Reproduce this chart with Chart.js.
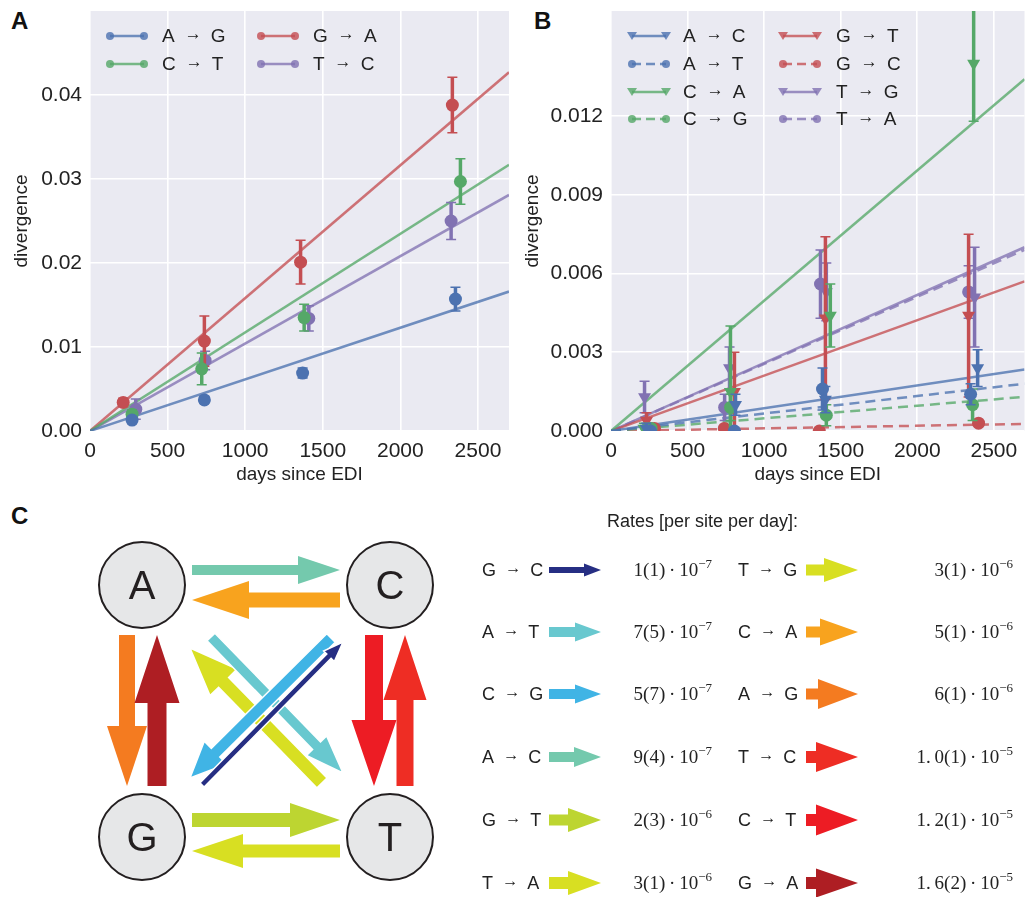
<!DOCTYPE html>
<html>
<head>
<meta charset="utf-8">
<script src="https://cdn.jsdelivr.net/npm/chart.js@4.4.1/dist/chart.umd.min.js"></script>
<style>
  html, body { margin: 0; padding: 0; background: #fff; }
  body { width: 1027px; height: 897px; overflow: hidden; position: relative;
         font-family: "Liberation Sans", Arial, sans-serif; color: #222; }
  canvas { position: absolute; top: 0; }
  #chartA { left: 0; }
  #chartB { left: 520px; }
  .letter { position: absolute; font-weight: bold; font-size: 24px; line-height: 24px; color: #111; }
  .lg-text { position: absolute; font-size: 19px; line-height: 24px; white-space: nowrap; }
  .lg-svg { position: absolute; overflow: visible; }
  .rt-label { position: absolute; font-size: 18px; line-height: 22px; white-space: nowrap; }
  .arr { position: relative; top: -3px; font-size: 0.9em; }
  .rt-value { position: absolute; font-family: "Liberation Serif", "DejaVu Serif", serif; font-size: 19px;
              line-height: 22px; white-space: nowrap; text-align: right; width: 120px; }
  .rt-value sup { font-size: 13px; vertical-align: 8px; line-height: 0; }
  #diagram { position: absolute; left: 0; top: 0; }
</style>
</head>
<body>

<div class="letter" style="left:11px; top:9px;">A</div>
<div class="letter" style="left:534px; top:9px;">B</div>
<div class="letter" style="left:11px; top:504px;">C</div>

<canvas id="chartA" width="520" height="490"></canvas>
<canvas id="chartB" width="512" height="490"></canvas>

<svg id="diagram" width="1027" height="897"></svg>

<script>
// ---------- shared axes ----------
const xTicks = [0, 500, 1000, 1500, 2000, 2500];
const xMax = 2700;
const yTicksA = [0, 0.01, 0.02, 0.03, 0.04];
const yTicksB = [0, 0.003, 0.006, 0.009, 0.012];

// ---------- panel A ----------
const agDays = [271, 737, 1370, 2355];
const agDiv  = [0.0013, 0.0037, 0.0069, 0.0157];
const agErr  = [0.0003, 0.0004, 0.0006, 0.0014];
const ctDays = [271, 720, 1380, 2387];
const ctDiv  = [0.0020, 0.0074, 0.0135, 0.0297];
const ctErr  = [0.0005, 0.0019, 0.0016, 0.0027];
const gaDays = [214, 737, 1357, 2335];
const gaDiv  = [0.0034, 0.0107, 0.0201, 0.0388];
const gaErr  = [0.0005, 0.0030, 0.0026, 0.0033];
const tcDays = [295, 742, 1410, 2327];
const tcDiv  = [0.0026, 0.0084, 0.0134, 0.0250];
const tcErr  = [0.0012, 0.0011, 0.0015, 0.0022];
// fitted line value at 2700 days: A→G, C→T, G→A, T→C
const fitEndA = [0.0166, 0.0317, 0.0427, 0.0281];

// ---------- panel B ----------
const acDays = [230, 813, 1400, 2394];
const acDiv  = [0.0001, 0.0010, 0.0012, 0.0024];
const acErr  = [0.0002, 0.0004, 0.0005, 0.0007];
const atDays = [258, 806, 1381, 2348];
const atDiv  = [0.0000, 0.0000, 0.0016, 0.0014];
const atErr  = [0.0001, 0.0001, 0.0008, 0.0004];
const caDays = [215, 780, 1432, 2368];
const caDiv  = [0.0001, 0.0015, 0.0044, 0.0140];
const caErr  = [0.0002, 0.0025, 0.0012, 0.0022];
const cgDays = [262, 781, 1406, 2361];
const cgDiv  = [0.0001, 0.0009, 0.0006, 0.0010];
const cgErr  = [0.0001, 0.0005, 0.0004, 0.0006];
const gtDays = [232, 806, 1400, 2335];
const gtDiv  = [0.0004, 0.0015, 0.0043, 0.0044];
const gtErr  = [0.0003, 0.0015, 0.0031, 0.0031];
const gcDays = [284, 740, 1360, 2400];
const gcDiv  = [0.0001, 0.0001, 0.0000, 0.0003];
const gcErr  = [0.0001, 0.0001, 0.0001, 0.0001];
const tgDays = [219, 774, 1406, 2374];
const tgDiv  = [0.0013, 0.0024, 0.0053, 0.0051];
const tgErr  = [0.0006, 0.0008, 0.0011, 0.0019];
const taDays = [258, 742, 1368, 2335];
const taDiv  = [0.0001, 0.0009, 0.0056, 0.0053];
const taErr  = [0.0001, 0.0005, 0.0013, 0.0010];
// fitted line value at 2700 days: A→C, A→T, C→A, C→G, G→T, G→C, T→G, T→A
const fitEndB = [0.00234, 0.0018, 0.0134, 0.0013, 0.0057, 0.00027, 0.0070, 0.0069];

// ---------- panel C rates ----------
const rateLabels = ['G → C', 'A → T', 'C → G', 'A → C', 'G → T', 'T → A',
                    'T → G', 'C → A', 'A → G', 'T → C', 'C → T', 'G → A'];
const rateMantissa = ['1(1)', '7(5)', '5(7)', '9(4)', '2(3)', '3(1)',
                      '3(1)', '5(1)', '6(1)', '1.\u20090(1)', '1.\u20092(1)', '1.\u20096(2)'];
const rateExponent = [-7, -7, -7, -7, -6, -6, -6, -6, -6, -5, -5, -5];

// ---------- styles ----------
const BLUE = '#4C72B0', GREEN = '#55A868', RED = '#C44E52', PURPLE = '#8172B2';
const BG = '#EAEAF2';

function rgba(hex, a) {
  const n = parseInt(hex.slice(1), 16);
  return `rgba(${n >> 16},${(n >> 8) & 255},${n & 255},${a})`;
}

const seriesA = [
  { label: 'A → G', days: agDays, div: agDiv, err: agErr, fit: fitEndA[0], color: BLUE,   tri: false, dashed: false },
  { label: 'C → T', days: ctDays, div: ctDiv, err: ctErr, fit: fitEndA[1], color: GREEN,  tri: false, dashed: false },
  { label: 'G → A', days: gaDays, div: gaDiv, err: gaErr, fit: fitEndA[2], color: RED,    tri: false, dashed: false },
  { label: 'T → C', days: tcDays, div: tcDiv, err: tcErr, fit: fitEndA[3], color: PURPLE, tri: false, dashed: false }
];
const seriesB = [
  { label: 'A → C', days: acDays, div: acDiv, err: acErr, fit: fitEndB[0], color: BLUE,   tri: true,  dashed: false },
  { label: 'A → T', days: atDays, div: atDiv, err: atErr, fit: fitEndB[1], color: BLUE,   tri: false, dashed: true },
  { label: 'C → A', days: caDays, div: caDiv, err: caErr, fit: fitEndB[2], color: GREEN,  tri: true,  dashed: false },
  { label: 'C → G', days: cgDays, div: cgDiv, err: cgErr, fit: fitEndB[3], color: GREEN,  tri: false, dashed: true },
  { label: 'G → T', days: gtDays, div: gtDiv, err: gtErr, fit: fitEndB[4], color: RED,    tri: true,  dashed: false },
  { label: 'G → C', days: gcDays, div: gcDiv, err: gcErr, fit: fitEndB[5], color: RED,    tri: false, dashed: true },
  { label: 'T → G', days: tgDays, div: tgDiv, err: tgErr, fit: fitEndB[6], color: PURPLE, tri: true,  dashed: false },
  { label: 'T → A', days: taDays, div: taDiv, err: taErr, fit: fitEndB[7], color: PURPLE, tri: false, dashed: true }
];

// plot background
const plotBg = {
  id: 'plotBg',
  beforeDraw(chart) {
    const { ctx, chartArea: a } = chart;
    ctx.save();
    ctx.fillStyle = BG;
    ctx.fillRect(a.left, a.top, a.right - a.left, a.bottom - a.top);
    ctx.restore();
  }
};

// vertical error bars, drawn just before each point dataset
const errorBars = {
  id: 'errorBars',
  beforeDatasetDraw(chart, args) {
    const ds = chart.data.datasets[args.index];
    if (!ds.errors) return;
    const { ctx, chartArea: a, scales: { x, y } } = chart;
    ctx.save();
    ctx.beginPath();
    ctx.rect(a.left, a.top, a.right - a.left, a.bottom - a.top);
    ctx.clip();
    ctx.strokeStyle = ds.pointBackgroundColor;
    ds.data.forEach((p, i) => {
      const px = x.getPixelForValue(p.x);
      const top = y.getPixelForValue(p.y + ds.errors[i]);
      const bot = y.getPixelForValue(p.y - ds.errors[i]);
      ctx.lineWidth = 3.5;
      ctx.beginPath();
      ctx.moveTo(px, top); ctx.lineTo(px, bot);
      ctx.stroke();
      ctx.lineWidth = 1.5;
      ctx.beginPath();
      ctx.moveTo(px - 5, top); ctx.lineTo(px + 5, top);
      ctx.moveTo(px - 5, bot); ctx.lineTo(px + 5, bot);
      ctx.stroke();
    });
    ctx.restore();
  }
};

function buildDatasets(series) {
  const fits = series.map(s => ({
    data: [{ x: 0, y: 0 }, { x: xMax, y: s.fit }],
    showLine: true,
    borderColor: rgba(s.color, 0.78),
    borderWidth: 2.5,
    borderDash: s.dashed ? [10, 6] : [],
    pointRadius: 0,
    order: 2
  }));
  const points = series.map(s => ({
    data: s.days.map((d, i) => ({ x: d, y: s.div[i] })),
    errors: s.err,
    showLine: false,
    pointStyle: s.tri ? 'triangle' : 'circle',
    rotation: s.tri ? 180 : 0,
    pointRadius: s.tri ? 7.5 : 6.5,
    pointBorderWidth: 0,
    pointBackgroundColor: s.color,
    borderColor: s.color,
    order: 1
  }));
  return fits.concat(points);
}

function makeOptions(yMax, yTicks, digits, yWidth, yTitlePad, rightPad) {
  return {
    responsive: false,
    animation: false,
    events: [],
    layout: { padding: { top: 11, right: rightPad, left: 0, bottom: 0 } },
    plugins: { legend: { display: false }, tooltip: { enabled: false } },
    scales: {
      x: {
        type: 'linear', min: 0, max: xMax,
        afterBuildTicks: s => { s.ticks = xTicks.map(v => ({ value: v })); },
        afterFit: s => { s.height = 59; s.paddingLeft = 0; s.paddingRight = 0; },
        grid: { color: '#fff', lineWidth: 1.6, drawTicks: false },
        border: { display: false },
        ticks: { padding: 8, color: '#222', font: { size: 21 }, maxRotation: 0, callback: v => String(v) },
        title: { display: true, text: 'days since EDI', color: '#222', font: { size: 19 }, padding: { top: 0, bottom: 4 } }
      },
      y: {
        type: 'linear', min: 0, max: yMax,
        afterBuildTicks: s => { s.ticks = yTicks.map(v => ({ value: v })); },
        afterFit: s => { s.width = yWidth; s.paddingTop = 0; s.paddingBottom = 0; },
        grid: { color: '#fff', lineWidth: 1.6, drawTicks: false },
        border: { display: false },
        ticks: { padding: 8, color: '#222', font: { size: 21 }, callback: v => Number(v).toFixed(digits) },
        title: { display: true, text: 'divergence', color: '#222', font: { size: 19 }, padding: { top: yTitlePad, bottom: 0 } }
      }
    }
  };
}

Chart.defaults.font.family = "'Liberation Sans', Arial, sans-serif";

new Chart(document.getElementById('chartA'), {
  type: 'scatter',
  data: { datasets: buildDatasets(seriesA) },
  options: makeOptions(0.05, yTicksA, 2, 90, 10, 11),
  plugins: [plotBg, errorBars]
});

new Chart(document.getElementById('chartB'), {
  type: 'scatter',
  data: { datasets: buildDatasets(seriesB) },
  options: makeOptions(0.016, yTicksB, 3, 91, 1, 2),
  plugins: [plotBg, errorBars]
});

// ---------- legends (HTML) ----------
const SVGNS = 'http://www.w3.org/2000/svg';
function el(tag, attrs, parent) {
  const e = document.createElementNS(SVGNS, tag);
  for (const k in attrs) e.setAttribute(k, attrs[k]);
  if (parent) parent.appendChild(e);
  return e;
}

function arrowLabel(text) {
  const parts = text.split(' → ');
  return parts[0] + '\u2002<span class="arr">→</span>\u2002' + parts[1];
}

function drawLegend(series, order, sampleX, textX, rowY) {
  order.forEach((idx, k) => {
    const s = series[idx];
    const col = Math.floor(k / rowY.length), row = k % rowY.length;
    const y = rowY[row];
    const svg = el('svg', { width: 44, height: 20, class: 'lg-svg' });
    svg.style.left = (sampleX[col] - 5) + 'px';
    svg.style.top = (y - 10) + 'px';
    const line = el('line', { x1: 5, y1: 10, x2: 39, y2: 10, stroke: rgba(s.color, 0.78), 'stroke-width': 2.5 }, svg);
    if (s.dashed) line.setAttribute('stroke-dasharray', '9 5');
    [5, 39].forEach(cx => {
      if (s.tri) {
        el('polygon', { points: `${cx - 5},${6} ${cx + 5},${6} ${cx},${14}`, fill: rgba(s.color, 0.8) }, svg);
      } else {
        el('circle', { cx: cx, cy: 10, r: 4, fill: rgba(s.color, 0.8) }, svg);
      }
    });
    document.body.appendChild(svg);
    const t = document.createElement('div');
    t.className = 'lg-text';
    t.innerHTML = arrowLabel(s.label);
    t.style.left = textX[col] + 'px';
    t.style.top = (y - 12) + 'px';
    document.body.appendChild(t);
  });
}

drawLegend(seriesA, [0, 1, 2, 3], [110, 261], [162, 313], [36, 64]);
drawLegend(seriesB, [0, 1, 2, 3, 4, 5, 6, 7], [632, 783], [683, 836], [36, 64, 92, 119]);

// ---------- panel C diagram ----------
const svg = document.getElementById('diagram');

function arrowPoints(x1, y1, x2, y2, w, hw, hl) {
  const dx = x2 - x1, dy = y2 - y1, len = Math.hypot(dx, dy);
  const ux = dx / len, uy = dy / len, nx = -uy, ny = ux;
  const bx = x2 - ux * hl, by = y2 - uy * hl;
  const pts = [
    [x1 + nx * w / 2, y1 + ny * w / 2],
    [bx + nx * w / 2, by + ny * w / 2],
    [bx + nx * hw / 2, by + ny * hw / 2],
    [x2, y2],
    [bx - nx * hw / 2, by - ny * hw / 2],
    [bx - nx * w / 2, by - ny * w / 2],
    [x1 - nx * w / 2, y1 - ny * w / 2]
  ];
  return pts.map(p => p[0].toFixed(1) + ',' + p[1].toFixed(1)).join(' ');
}

const C_GC = '#262E83', C_AT = '#68C8CF', C_CG = '#40B4E5', C_AC = '#74C9AD',
      C_GT = '#BDD531', C_TA = '#D8DF22', C_TG = '#D8DF22', C_CA = '#F8A31E',
      C_AG = '#F47B20', C_TC = '#EE2D24', C_CT = '#ED1C24', C_GA = '#AE1E23';

// [x1, y1, x2, y2, shaft, head width, head length, colour, white outline]
const diagramArrows = [
  [192, 570, 340, 570, 10, 28, 42, C_AC, false],
  [340, 600, 192, 600, 15, 38, 57, C_CA, false],
  [127, 635, 127, 786, 16, 40, 60, C_AG, false],
  [157, 786, 157, 635, 19, 45, 68, C_GA, false],
  [374, 635, 374, 786, 18, 45, 66, C_CT, false],
  [405, 786, 405, 635, 17, 43, 65, C_TC, false],
  [192, 820, 340, 820, 14, 34, 50, C_GT, false],
  [340, 851, 192, 851, 13, 34, 51, C_TG, false],
  [322, 783, 190, 648, 14, 38, 48, C_TA, true],
  [211, 637, 343, 773, 11, 28, 38, C_AT, true],
  [331, 638, 190, 778, 12, 32, 36, C_CG, true],
  [202, 785, 343, 642, 6, 15, 20, C_GC, true]
];
diagramArrows.forEach(a => {
  const p = el('polygon', { points: arrowPoints(a[0], a[1], a[2], a[3], a[4], a[5], a[6]), fill: a[7] }, svg);
  if (a[8]) { p.setAttribute('stroke', '#fff'); p.setAttribute('stroke-width', '1.5'); }
});

const nodes = [['A', 142, 585], ['C', 390, 585], ['G', 142, 837], ['T', 390, 837]];
nodes.forEach(n => {
  el('circle', { cx: n[1], cy: n[2], r: 43, fill: '#E6E7E8', stroke: '#231F20', 'stroke-width': 2 }, svg);
  const t = el('text', { x: n[1], y: n[2] + 14, 'text-anchor': 'middle', 'font-size': 40,
    'font-family': "'Liberation Sans', Arial, sans-serif", fill: '#231F20' }, svg);
  t.textContent = n[0];
});

// ---------- panel C rate table ----------
const title = document.createElement('div');
title.className = 'rt-label';
title.textContent = 'Rates [per site per day]:';
title.style.left = '607px';
title.style.top = '510px';
document.body.appendChild(title);

const rowYs = [570, 632, 694, 757, 820, 883];
const labelX = [482, 738], arrowX = [549, 806], valueRight = [712, 1013];
const rateColors = [C_GC, C_AT, C_CG, C_AC, C_GT, C_TA, C_TG, C_CA, C_AG, C_TC, C_CT, C_GA];
// [shaft, head width, head length]
const rateArrowDims = [[6, 13, 17], [10, 19, 26], [10, 19, 26], [10, 20, 27], [11, 24, 33], [12, 24, 33],
                       [11, 24, 34], [11, 27, 38], [11, 30, 40], [12, 30, 42], [12, 31, 42], [12, 29, 42]];

rateLabels.forEach((lab, i) => {
  const col = i < 6 ? 0 : 1, row = i % 6, y = rowYs[row];
  const l = document.createElement('div');
  l.className = 'rt-label';
  l.innerHTML = arrowLabel(lab);
  l.style.left = labelX[col] + 'px';
  l.style.top = (y - 11) + 'px';
  document.body.appendChild(l);

  const d = rateArrowDims[i];
  el('polygon', { points: arrowPoints(arrowX[col], y, arrowX[col] + 52, y, d[0], d[1], d[2]), fill: rateColors[i] }, svg);

  const v = document.createElement('div');
  v.className = 'rt-value';
  v.innerHTML = rateMantissa[i] + '\u2009·\u200910<sup>\u2212' + Math.abs(rateExponent[i]) + '</sup>';
  v.style.left = (valueRight[col] - 120) + 'px';
  v.style.top = (y - 11) + 'px';
  document.body.appendChild(v);
});
</script>
</body>
</html>
